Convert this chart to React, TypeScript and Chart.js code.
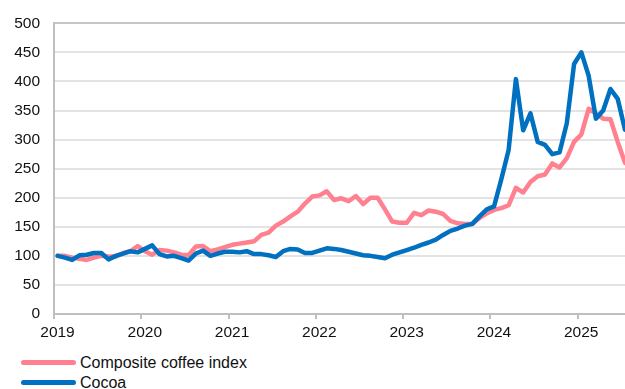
import React, { useEffect, useRef } from 'react';
import { Chart, registerables } from 'chart.js';

Chart.register(...registerables);

// ---- Data (monthly, index Jan 2019 = 100) ----
const yearLabels = ['2019', '2020', '2021', '2022', '2023', '2024', '2025'];
const seriesNames = ['Composite coffee index', 'Cocoa'];

const coffeeIndex = [
  100, 100, 97, 95, 93, 97, 100, 99, 99, 105, 108, 117,
  108, 102, 110, 109, 106, 102, 101, 116, 117, 108, 111, 115,
  119, 121, 123, 125, 136, 140, 152, 159, 168, 176, 190, 202,
  204, 211, 196, 199, 194, 203, 189, 200, 200, 180, 159, 157,
  157, 174, 170, 178, 176, 172, 160, 156, 155, 155, 165, 173,
  179, 182, 187, 217, 209, 227, 237, 240, 259, 252, 268, 296,
  309, 353, 345, 336, 335, 296, 260,
];

const cocoaIndex = [
  100, 97, 93, 101, 102, 105, 105, 94, 100, 104, 108, 106,
  112, 118, 103, 99, 100, 96, 92, 104, 109, 100, 104, 107,
  107, 106, 108, 103, 103, 101, 98, 108, 112, 111, 105, 105,
  109, 113, 112, 110, 107, 104, 101, 100, 98, 96, 102, 106,
  110, 114, 119, 123, 128, 136, 143, 147, 152, 155, 168, 180,
  185, 232, 282, 404, 316, 345, 296, 291, 275, 278, 328, 430,
  450, 410, 336, 350, 387, 370, 317,
];

const PINK = 'rgb(255,128,142)';
const BLUE = '#0070C0';
const FONT = "'Liberation Sans', Arial, sans-serif";
const TEXT = '#111111';

export default function App() {
  const ref = useRef<HTMLCanvasElement>(null);

  useEffect(() => {
    if (!ref.current) return;
    // points plotted at mid-month
    const toPoints = (arr: number[]) => arr.map((v, i) => ({ x: i + 0.5, y: v }));
    const chart = new Chart(ref.current, {
      type: 'line',
      data: {
        datasets: [
          {
            label: seriesNames[0],
            data: toPoints(coffeeIndex),
            borderColor: PINK,
            backgroundColor: PINK,
            borderWidth: 4.5,
            pointRadius: 0,
            tension: 0,
            order: 1,
            borderJoinStyle: 'round',
            borderCapStyle: 'round',
          },
          {
            label: seriesNames[1],
            data: toPoints(cocoaIndex),
            borderColor: BLUE,
            backgroundColor: BLUE,
            borderWidth: 4.5,
            pointRadius: 0,
            tension: 0,
            order: 0,
            borderJoinStyle: 'round',
            borderCapStyle: 'round',
          },
        ],
      },
      options: {
        responsive: false,
        animation: false,
        layout: { padding: { top: 20.5, right: 0, left: 0, bottom: 0 } },
        plugins: { legend: { display: false }, tooltip: { enabled: false } },
        scales: {
          x: {
            type: 'linear',
            min: 0,
            max: cocoaIndex.length - 0.5,
            afterBuildTicks: (s: any) => {
              s.ticks = yearLabels.map((_, k) => ({ value: k * 12 }));
            },
            ticks: {
              callback: (v: any) => yearLabels[Math.round(Number(v) / 12)] ?? '',
              labelOffset: 3.5,
              padding: 4,
              maxRotation: 0,
              autoSkip: false,
              font: { family: FONT, size: 15.5 },
              color: TEXT,
            },
            grid: {
              drawOnChartArea: false,
              drawTicks: true,
              tickLength: 5,
              color: '#bfbfbf',
              lineWidth: 2,
            },
            border: { color: '#bfbfbf', width: 2 },
            afterFit: (s: any) => {
              s.height = 31;
            },
          },
          y: {
            min: 0,
            max: 500,
            ticks: {
              stepSize: 50,
              padding: 14,
              font: { family: FONT, size: 15.5 },
              color: TEXT,
            },
            grid: {
              drawTicks: false,
              color: (ctx: any) => (ctx.tick && ctx.tick.value === 500 ? '#c6c6c6' : '#e3e3e3'),
              lineWidth: 2,
            },
            border: { color: '#bfbfbf', width: 2 },
            afterFit: (s: any) => {
              s.width = 54;
            },
          },
        },
      },
    } as any);
    return () => chart.destroy();
  }, []);

  const legendRow = (name: string, color: string, top: number) => (
    <div
      key={name}
      style={{
        position: 'absolute',
        left: 21,
        top,
        height: 20,
        display: 'flex',
        alignItems: 'center',
        fontFamily: FONT,
        fontSize: 16,
        color: TEXT,
        whiteSpace: 'nowrap',
      }}
    >
      <span
        style={{
          display: 'inline-block',
          width: 55,
          height: 4.5,
          borderRadius: 3,
          background: color,
          marginRight: 4,
        }}
      />
      <span>{name}</span>
    </div>
  );

  return (
    <div
      style={{
        position: 'fixed',
        left: 0,
        top: 0,
        width: 625,
        height: 389,
        background: '#fff',
        overflow: 'hidden',
      }}
    >
      <canvas ref={ref} width={625} height={345} style={{ display: 'block' }} />
      {legendRow(seriesNames[0], PINK, 352.5)}
      {legendRow(seriesNames[1], BLUE, 372.5)}
    </div>
  );
}
